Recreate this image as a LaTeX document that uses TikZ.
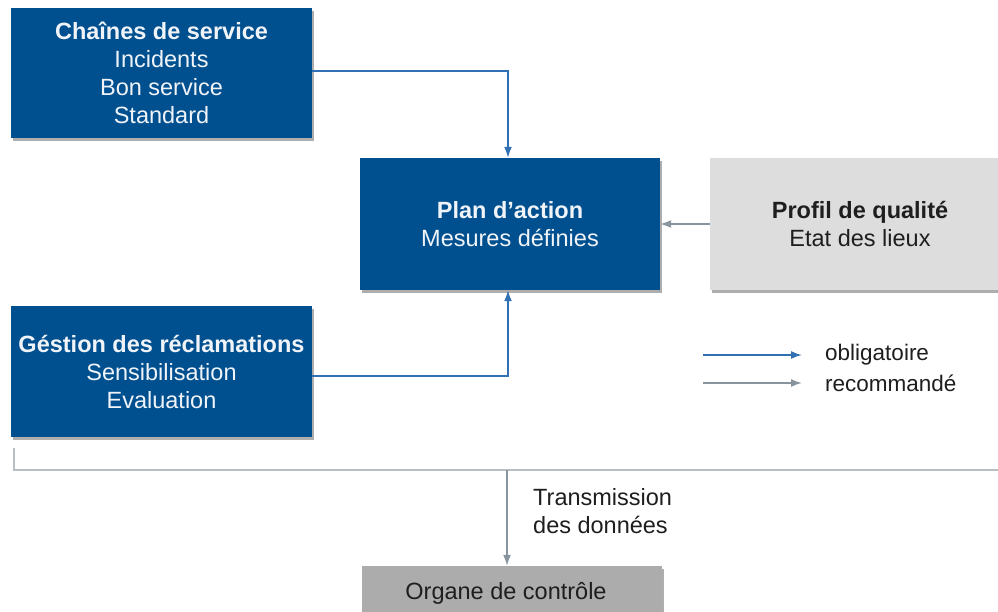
\documentclass[tikz,border=0pt]{standalone}
\usepackage{fontspec}
\setmainfont{Liberation Sans}
\usetikzlibrary{shadows,arrows.meta}
\definecolor{boxblue}{RGB}{0,80,144}
\definecolor{lightgr}{RGB}{221,221,221}
\definecolor{midgr}{RGB}{172,172,172}
\definecolor{lineblue}{RGB}{50,112,180}
\definecolor{linegray}{RGB}{135,148,158}
\definecolor{brackgray}{RGB}{185,190,195}
\definecolor{txtdark}{RGB}{30,30,30}
\definecolor{txtlight}{RGB}{240,244,248}
\begin{document}
\begin{tikzpicture}[x=1pt,y=-1pt,
  font=\fontsize{23.5}{28}\selectfont,
  boxshadow/.style={drop shadow={shadow xshift=2pt,shadow yshift=-3pt,opacity=0.45,fill=black!70}},
  bluebox/.style={rectangle,fill=boxblue,text=txtlight,align=center,inner sep=0pt,boxshadow},
  graybox/.style={rectangle,fill=lightgr,text=txtdark,align=center,inner sep=0pt,boxshadow},
  darkgraybox/.style={rectangle,fill=midgr,text=txtdark,align=center,inner sep=0pt,boxshadow},
  bluearrow/.style={draw=lineblue,line width=1.7pt,-{Latex[length=11pt,width=8pt]}},
  grayarrow/.style={draw=linegray,line width=1.7pt,-{Latex[length=11pt,width=8pt]}},
  plainlabel/.style={text=txtdark,inner sep=0pt,anchor=west}
]
\useasboundingbox (0,0) rectangle (998,612);

\node[bluebox,minimum width=301pt,minimum height=130pt] (chaines) at (161.5,73)
  {\textbf{Chaînes de service}\\Incidents\\Bon service\\Standard};
\node[bluebox,minimum width=300pt,minimum height=132pt] (plan) at (510,224)
  {\textbf{Plan d’action}\\Mesures définies};
\node[graybox,minimum width=300pt,minimum height=132pt] (profil) at (860,224)
  {\textbf{Profil de qualité}\\Etat des lieux};
\node[bluebox,minimum width=301pt,minimum height=131pt] (gestion) at (161.5,371.5)
  {\textbf{Géstion des réclamations}\\Sensibilisation\\Evaluation};
\node[darkgraybox,minimum width=300pt,minimum height=54pt] (organe) at (512,593)
  {\hspace*{-12pt}Organe de contrôle};

% connectors
\coordinate (c1) at (508,71);
\coordinate (c2) at (508,376);
\draw[bluearrow] (chaines.east |- c1) -- (c1) -- (plan.north -| c1);
\draw[bluearrow] (gestion.east |- c2) -- (c2) -- (plan.south -| c2);
\draw[grayarrow] (profil.west) -- (plan.east);

% bracket and transmission
\coordinate (b0) at (14,448);
\coordinate (b1) at (14,470);
\coordinate (b2) at (998,470);
\coordinate (bt) at (507,470);
\draw[draw=brackgray,line width=2pt] (b0) -- (b1) -- (b2);
\draw[grayarrow] (bt) -- (organe.north -| bt);
\node[plainlabel] (trans1) at (533,497) {Transmission};
\node[plainlabel] (trans2) at (533,525) {des données};

% legend
\coordinate (l1a) at (703,355);
\coordinate (l1b) at (802,355);
\coordinate (l2a) at (703,383);
\coordinate (l2b) at (802,383);
\draw[bluearrow] (l1a) -- (l1b);
\draw[grayarrow] (l2a) -- (l2b);
\node[plainlabel,font=\fontsize{22.5}{27}\selectfont] (oblig) at (825,355) {obligatoire};
\node[plainlabel,font=\fontsize{22.5}{27}\selectfont] (recom) at (825,383) {recommandé};
\end{tikzpicture}
\end{document}
